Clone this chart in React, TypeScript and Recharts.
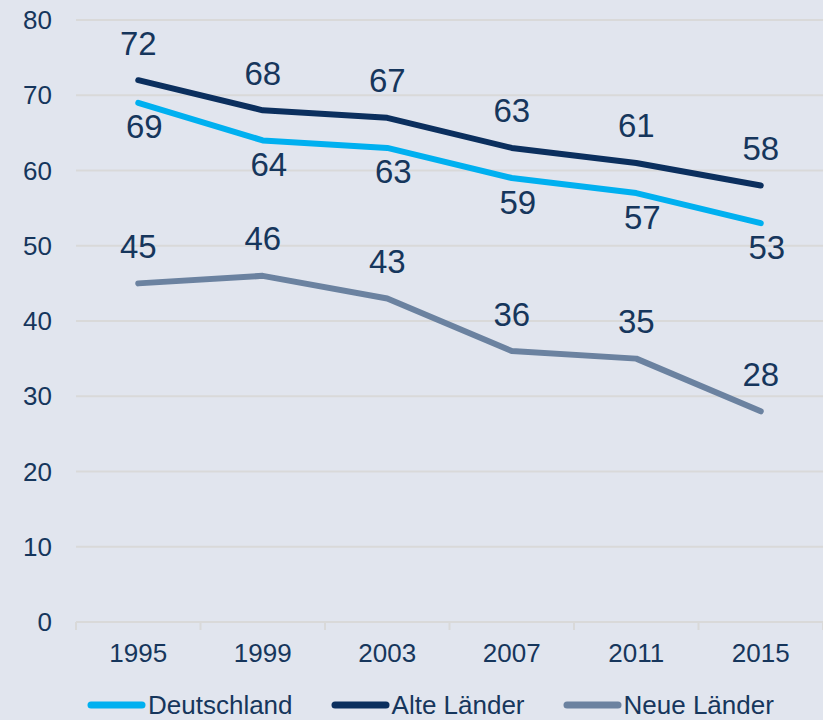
import React from 'react';
import { LineChart, Line, XAxis, YAxis, CartesianGrid, Legend, LabelList } from 'recharts';

const years = ['1995', '1999', '2003', '2007', '2011', '2015'];
const deutschland = [69, 64, 63, 59, 57, 53];
const alteLaender = [72, 68, 67, 63, 61, 58];
const neueLaender = [45, 46, 43, 36, 35, 28];
const yTicks = [0, 10, 20, 30, 40, 50, 60, 70, 80];

const data = years.map((y, i) => ({
  year: y,
  deutschland: deutschland[i],
  alte: alteLaender[i],
  neue: neueLaender[i],
}));

const W = 823;
const H = 720;
const BG = '#e1e5ee';
const TEXT = '#16365c';
const GRID = '#d9d9d9';
const C_DE = '#00b0f0';
const C_ALT = '#0b2f5e';
const C_NEU = '#6b82a0';
const FONT = '"Liberation Sans", Arial, sans-serif';

const PLOT_LEFT = 76;
const PLOT_RIGHT = 823;
const BAND = (PLOT_RIGHT - PLOT_LEFT) / years.length;

const makeLabel = (dx: number, dy: number) => (props: any) => {
  const { x, y, value } = props;
  return (
    <text x={x + dx} y={y + dy} textAnchor="middle" dominantBaseline="central" fill={TEXT} fontSize={33} fontFamily={FONT}>
      {value}
    </text>
  );
};

const XTick = (props: any) => {
  const { x, y, payload, index } = props;
  const top = y - 8;
  return (
    <g>
      <line x1={x - BAND / 2} x2={x - BAND / 2} y1={top} y2={top + 8} stroke={GRID} strokeWidth={2} />
      {index === years.length - 1 && (
        <line x1={x + BAND / 2} x2={x + BAND / 2} y1={top} y2={top + 8} stroke={GRID} strokeWidth={2} />
      )}
      <text x={x} y={top + 31} textAnchor="middle" dominantBaseline="central" fill={TEXT} fontSize={26} fontFamily={FONT}>
        {payload.value}
      </text>
    </g>
  );
};

const legendItems = [
  { name: 'Deutschland', color: C_DE },
  { name: 'Alte Länder', color: C_ALT },
  { name: 'Neue Länder', color: C_NEU },
];

const LegendContent = () => (
  <div style={{ display: 'flex', gap: 38, paddingLeft: 87, paddingTop: 17, alignItems: 'center', height: 31 }}>
    {legendItems.map((it) => (
      <div key={it.name} style={{ display: 'flex', alignItems: 'center' }}>
        <svg width={59} height={12} style={{ display: 'block' }}>
          <line x1={4} x2={55} y1={6} y2={6} stroke={it.color} strokeWidth={7} strokeLinecap="round" />
        </svg>
        <span style={{ fontFamily: FONT, fontSize: 26, color: TEXT, marginLeft: 2, lineHeight: '30px' }}>{it.name}</span>
      </div>
    ))}
  </div>
);

export default function App() {
  return (
    <div style={{ position: 'absolute', left: 0, top: 0, width: W, height: H, background: BG }}>
      <LineChart width={W} height={H} data={data} margin={{ top: 20, right: 0, left: 0, bottom: 0 }}>
        <CartesianGrid horizontal={true} vertical={false} stroke={GRID} strokeWidth={2} />
        <XAxis
          dataKey="year"
          scale="band"
          axisLine={{ stroke: GRID, strokeWidth: 2 }}
          tickLine={false}
          tick={<XTick />}
          height={50}
          interval={0}
        />
        <YAxis
          domain={[0, 80]}
          ticks={yTicks}
          width={76}
          axisLine={false}
          tickLine={false}
          tickSize={0}
          tickMargin={24}
          tick={{ fill: TEXT, fontSize: 26, fontFamily: FONT }}
          interval={0}
        />
        <Legend verticalAlign="bottom" height={48} content={<LegendContent />} />
        <Line type="linear" dataKey="deutschland" stroke={C_DE} strokeWidth={6} strokeLinecap="round" strokeLinejoin="round" dot={false} isAnimationActive={false}>
          <LabelList dataKey="deutschland" content={makeLabel(6, 24)} />
        </Line>
        <Line type="linear" dataKey="alte" stroke={C_ALT} strokeWidth={6} strokeLinecap="round" strokeLinejoin="round" dot={false} isAnimationActive={false}>
          <LabelList dataKey="alte" content={makeLabel(0, -37)} />
        </Line>
        <Line type="linear" dataKey="neue" stroke={C_NEU} strokeWidth={6} strokeLinecap="round" strokeLinejoin="round" dot={false} isAnimationActive={false}>
          <LabelList dataKey="neue" content={makeLabel(0, -37)} />
        </Line>
      </LineChart>
    </div>
  );
}
